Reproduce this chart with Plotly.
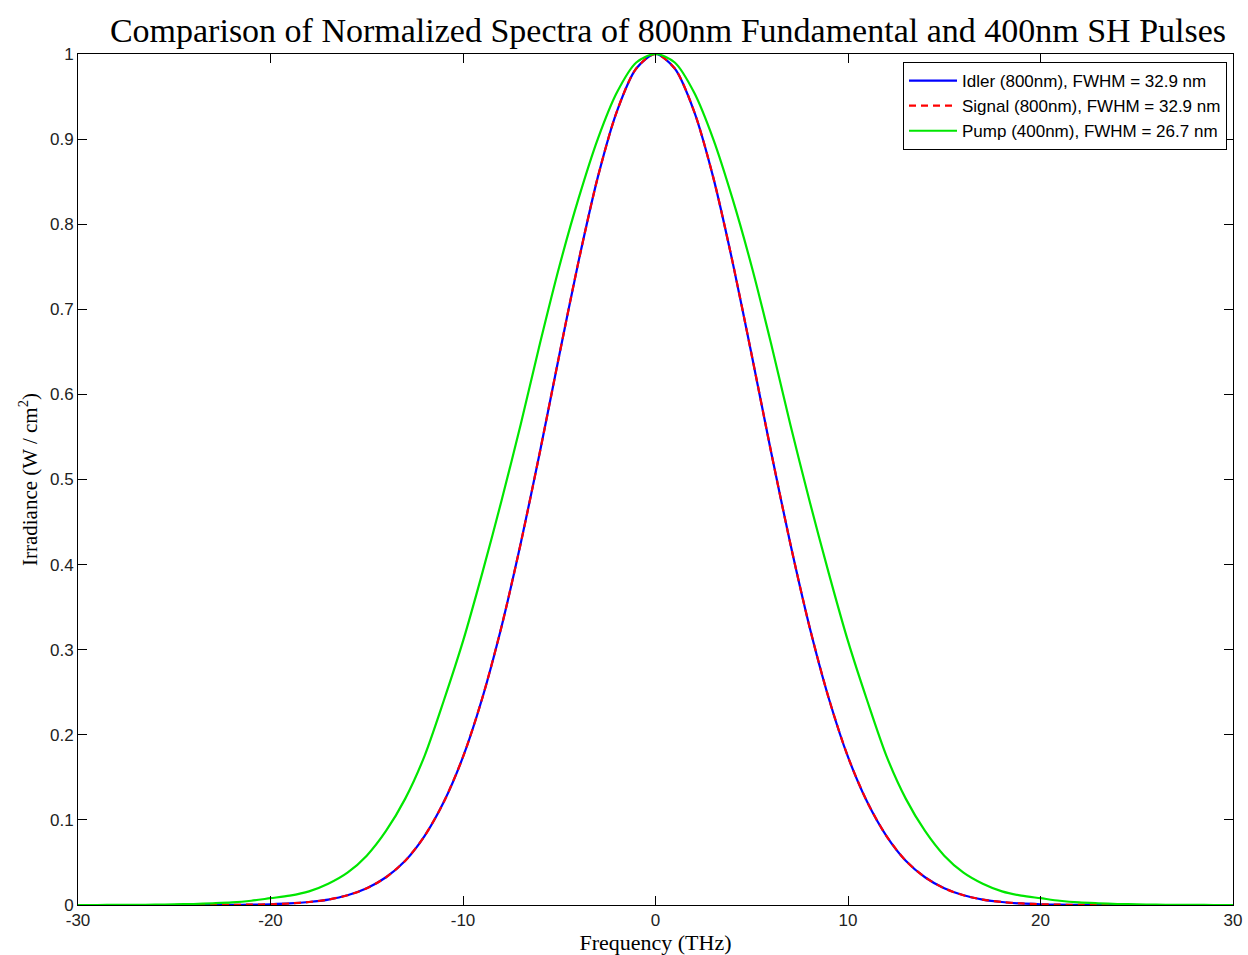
import plotly.graph_objects as go

# Frequency offset grid (THz)
freq_thz = [-30, -29, -28, -27, -26, -25, -24, -23, -22, -21, -20, -19, -18, -17, -16,
            -15, -14, -13, -12, -11, -10, -9, -8, -7, -6, -5, -4, -3, -2, -1, 0,
            1, 2, 3, 4, 5, 6, 7, 8, 9, 10, 11, 12, 13, 14, 15,
            16, 17, 18, 19, 20, 21, 22, 23, 24, 25, 26, 27, 28, 29, 30]

# Normalized spectra of the 800 nm idler and signal
idler_800 = [0.0, 0.0, 0.0, 0.0, 0.0, 0.0, 0.0001, 0.0001, 0.0002, 0.0004, 0.0009, 0.0018,
             0.0035, 0.0064, 0.0114, 0.0196, 0.0326, 0.052, 0.081, 0.121, 0.174, 0.243,
             0.327, 0.425, 0.533, 0.646, 0.756, 0.855, 0.933, 0.983, 1.0,
             0.983, 0.933, 0.855, 0.756, 0.646, 0.533, 0.425, 0.327, 0.243, 0.174,
             0.121, 0.081, 0.052, 0.0326, 0.0196, 0.0114, 0.0064, 0.0035, 0.0018,
             0.0009, 0.0004, 0.0002, 0.0001, 0.0001, 0.0, 0.0, 0.0, 0.0, 0.0, 0.0]
signal_800 = [0.0, 0.0, 0.0, 0.0, 0.0, 0.0, 0.0001, 0.0001, 0.0002, 0.0004, 0.0009, 0.0018,
              0.0035, 0.0064, 0.0114, 0.0196, 0.0326, 0.052, 0.081, 0.121, 0.174, 0.243,
              0.327, 0.425, 0.533, 0.646, 0.756, 0.855, 0.933, 0.983, 1.0,
              0.983, 0.933, 0.855, 0.756, 0.646, 0.533, 0.425, 0.327, 0.243, 0.174,
              0.121, 0.081, 0.052, 0.0326, 0.0196, 0.0114, 0.0064, 0.0035, 0.0018,
              0.0009, 0.0004, 0.0002, 0.0001, 0.0001, 0.0, 0.0, 0.0, 0.0, 0.0, 0.0]

# Normalized spectrum of the 400 nm pump (second harmonic)
pump_400 = [0.0, 0.0, 0.0001, 0.0002, 0.0004, 0.0007, 0.0012, 0.002, 0.003, 0.005, 0.008,
            0.011, 0.016, 0.025, 0.038, 0.058, 0.087, 0.125, 0.175, 0.24, 0.31, 0.39,
            0.475, 0.565, 0.66, 0.75, 0.83, 0.90, 0.955, 0.99, 1.0,
            0.99, 0.955, 0.90, 0.83, 0.75, 0.66, 0.565, 0.475, 0.39, 0.31, 0.24,
            0.175, 0.125, 0.087, 0.058, 0.038, 0.025, 0.016, 0.011, 0.008, 0.005,
            0.003, 0.002, 0.0012, 0.0007, 0.0004, 0.0002, 0.0001, 0.0, 0.0]

names = ["Idler (800nm), FWHM = 32.9 nm",
         "Signal (800nm), FWHM = 32.9 nm",
         "Pump (400nm), FWHM = 26.7 nm"]

x_ticks = [-30, -20, -10, 0, 10, 20, 30]
x_tick_text = ["-30", "-20", "-10", "0", "10", "20", "30"]
y_ticks = [0, 0.1, 0.2, 0.3, 0.4, 0.5, 0.6, 0.7, 0.8, 0.9, 1]
y_tick_text = ["0", "0.1", "0.2", "0.3", "0.4", "0.5", "0.6", "0.7", "0.8", "0.9", "1"]

fig = go.Figure()
fig.add_trace(go.Scatter(x=freq_thz, y=idler_800, mode="lines", name=names[0],
                         line=dict(color="#0000ff", width=2.2, shape="spline", smoothing=0.8)))
fig.add_trace(go.Scatter(x=freq_thz, y=signal_800, mode="lines", name=names[1],
                         line=dict(color="#ff0000", width=2.2, dash="7px,5px",
                                   shape="spline", smoothing=0.8)))
fig.add_trace(go.Scatter(x=freq_thz, y=pump_400, mode="lines", name=names[2],
                         line=dict(color="#00e600", width=2.2, shape="spline", smoothing=0.8)))

serif = "Liberation Serif, DejaVu Serif, serif"
sans = "Liberation Sans, Arial, sans-serif"

axis_common = dict(showline=True, linecolor="black", linewidth=1, mirror="ticks",
                   ticks="inside", ticklen=9, tickcolor="black", tickwidth=1,
                   showgrid=False, zeroline=False, automargin=False,
                   tickfont=dict(family=sans, size=17, color="#222"))

fig.update_layout(
    width=1248, height=955,
    margin=dict(l=78, r=15, t=54, b=50),
    paper_bgcolor="white", plot_bgcolor="white",
    title=dict(text="Comparison of Normalized Spectra of 800nm Fundamental and 400nm SH Pulses",
               x=668 / 1248, xanchor="center", y=1 - 30 / 955, yanchor="middle",
               font=dict(family=serif, size=34, color="black")),
    xaxis=dict(range=[-30, 30], tickvals=x_ticks, ticktext=x_tick_text,
               title=dict(text="Frequency (THz)", standoff=2,
                          font=dict(family=serif, size=22, color="black")),
               **axis_common),
    yaxis=dict(range=[0, 1], tickvals=y_ticks, ticktext=y_tick_text,
               title=dict(text="Irradiance (W / cm<sup>2</sup>)", standoff=6,
                          font=dict(family=serif, size=21, color="black")),
               **axis_common),
    legend=dict(x=1 - 6 / 1155, xanchor="right", y=1 - 8 / 851, yanchor="top",
                bgcolor="white", bordercolor="black", borderwidth=1,
                font=dict(family=sans, size=17, color="black"),
                tracegroupgap=0, itemwidth=48),
    showlegend=True,
)

fig.write_html("out.html")
